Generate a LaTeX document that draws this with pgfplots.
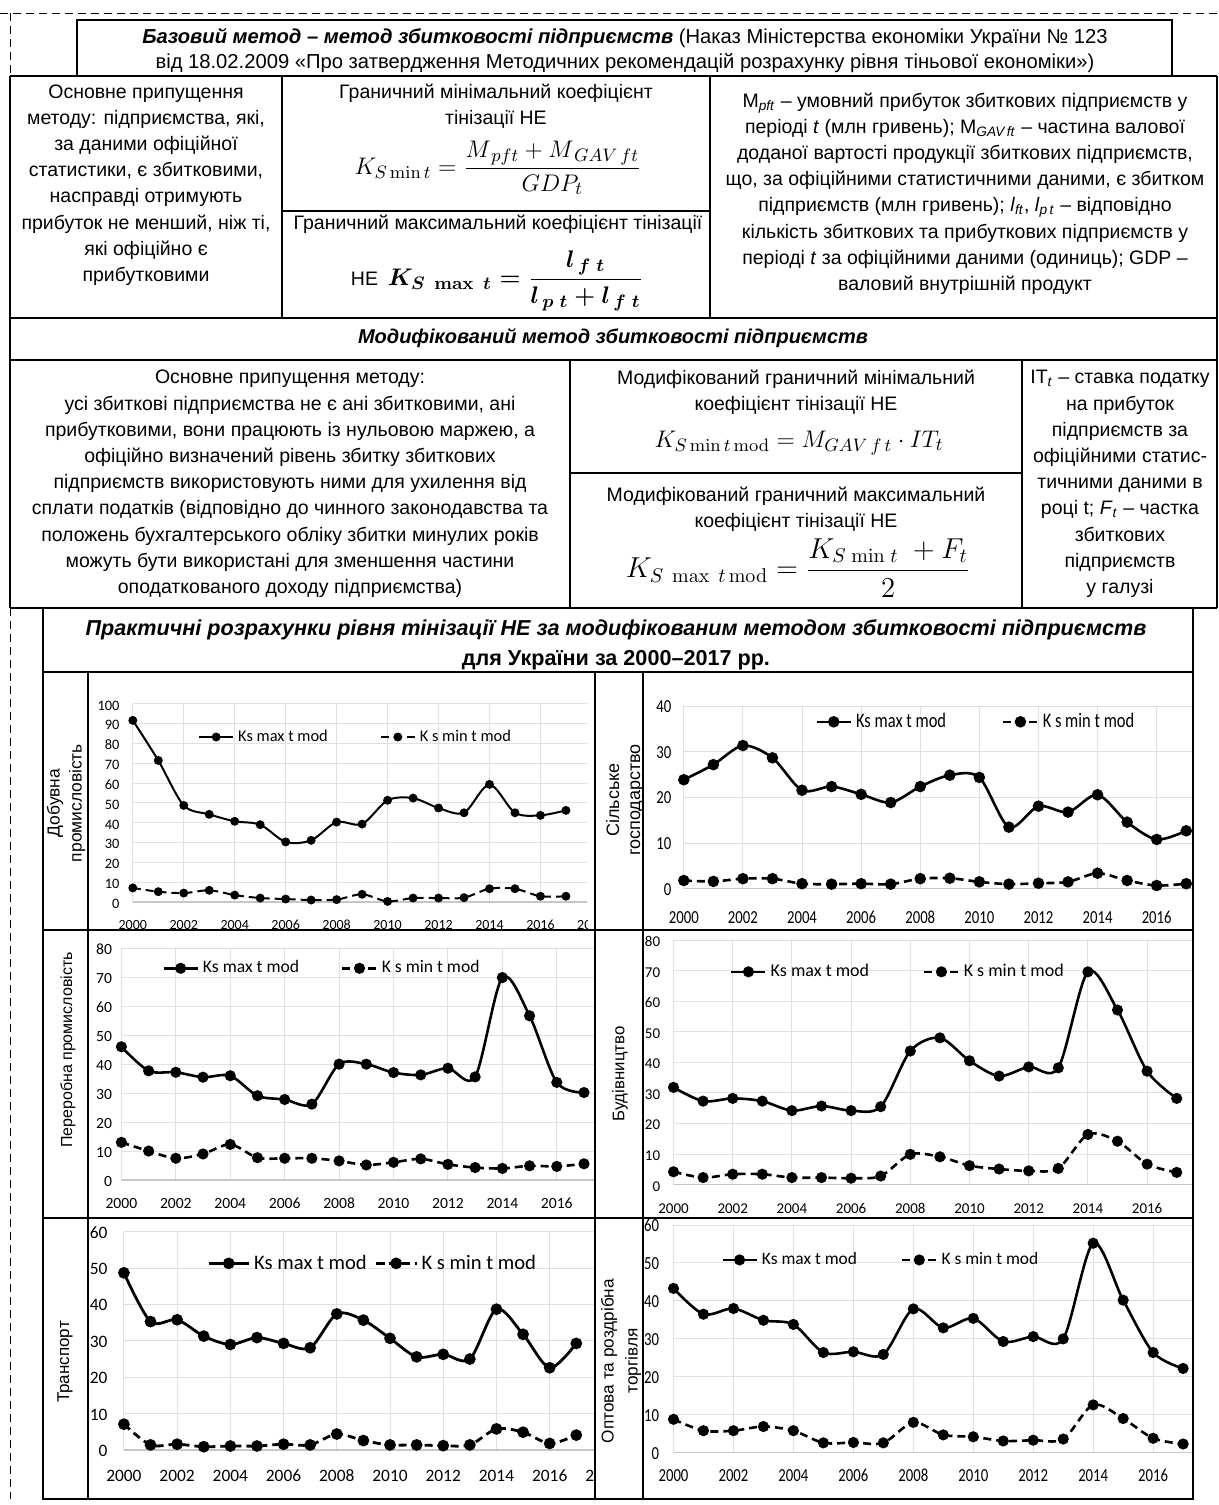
\documentclass[border=0pt]{standalone}
\usepackage{amsmath}
\usepackage[no-math]{fontspec}
\setmainfont{Liberation Sans}
\newfontfamily\carlito{Carlito}[Numbers=Lining]
\newfontfamily\carlitoN{Carlito}[FakeStretch=0.8,Numbers=Lining]
\usepackage{pgfplots}
\usepackage{pgfplotstable}
\pgfplotsset{compat=1.18}

\newcommand\tf{\fontsize{9.75}{13.1}\selectfont}
\newcommand\mf{\fontsize{12.5}{15}\selectfont}

% year, Ks max t mod, K s min t mod
\pgfplotstableread{
year max min
2000 91.6 7.1
2001 71.4 5.2
2002 48.7 4.5
2003 44.2 5.9
2004 40.7 3.5
2005 39.0 2.0
2006 30.3 1.5
2007 31.1 1.0
2008 40.3 1.2
2009 39.3 3.9
2010 51.3 0.3
2011 52.4 2.0
2012 47.4 2.0
2013 45.0 2.2
2014 59.3 6.7
2015 45.0 6.7
2016 43.7 2.9
2017 46.2 2.9
}\dobuvna

\pgfplotstableread{
year max min
2000 23.9 1.8
2001 27.2 1.6
2002 31.4 2.2
2003 28.7 2.2
2004 21.6 1.1
2005 22.4 1.0
2006 20.7 1.1
2007 18.9 1.0
2008 22.4 2.2
2009 24.9 2.3
2010 24.4 1.5
2011 13.5 1.0
2012 18.1 1.2
2013 16.8 1.5
2014 20.6 3.4
2015 14.6 1.8
2016 10.8 0.7
2017 12.7 1.1
}\silske

\pgfplotstableread{
year max min
2000 46.0 13.0
2001 37.7 10.0
2002 37.2 7.5
2003 35.5 9.0
2004 36.0 12.3
2005 29.1 7.7
2006 27.8 7.5
2007 26.2 7.5
2008 40.0 6.6
2009 40.0 5.2
2010 37.1 6.1
2011 36.3 7.3
2012 38.6 5.4
2013 35.6 4.3
2014 69.9 4.0
2015 56.7 4.9
2016 33.7 4.7
2017 30.2 5.6
}\pererobna

\pgfplotstableread{
year max min
2000 31.8 4.2
2001 27.3 2.3
2002 28.2 3.4
2003 27.3 3.4
2004 24.2 2.3
2005 25.7 2.3
2006 24.2 2.1
2007 25.5 2.8
2008 43.7 9.9
2009 48.0 9.1
2010 40.5 6.2
2011 35.5 5.1
2012 38.5 4.5
2013 38.2 5.3
2014 69.6 16.4
2015 57.1 14.2
2016 37.1 6.7
2017 28.2 4.0
}\budivn

\pgfplotstableread{
year max min
2000 48.7 7.1
2001 35.3 1.4
2002 35.8 1.6
2003 31.3 0.9
2004 29.0 1.1
2005 30.9 1.1
2006 29.3 1.6
2007 28.1 1.4
2008 37.4 4.4
2009 35.7 2.6
2010 30.7 1.4
2011 25.6 1.4
2012 26.3 1.2
2013 25.0 1.4
2014 38.7 5.8
2015 31.8 4.9
2016 22.6 1.8
2017 29.3 4.1
}\transport

\pgfplotstableread{
year max min
2000 43.3 8.8
2001 36.5 5.8
2002 38.0 5.8
2003 34.9 6.9
2004 33.8 5.8
2005 26.4 2.6
2006 26.6 2.7
2007 25.9 2.6
2008 37.9 8.0
2009 32.9 4.7
2010 35.4 4.2
2011 29.3 3.1
2012 30.6 3.3
2013 30.0 3.6
2014 55.2 12.6
2015 40.2 9.0
2016 26.4 3.8
2017 22.2 2.3
}\torgivlia

\pgfplotsset{
  kchart/.style={
    scale only axis, anchor=south west,
    xmin=2000, xmax=2018, ymin=0,
    xtick={2000,2002,...,2016},
    axis x line*=bottom, axis y line*=left,
    y axis line style={draw=none},
    x axis line style={-, draw=black!22, line width=0.7pt},
    major tick length=0pt,
    xmajorgrids, ymajorgrids,
    grid style={draw=black!12, line width=0.5pt},
    /pgf/number format/assume math mode=true,
    /pgf/number format/1000 sep={},
    xticklabel style={anchor=center, inner sep=0pt, text height=0.64em, text depth=0pt},
    yticklabel style={anchor=east, inner sep=0pt, text height=0.64em, text depth=0pt},
    clip=false,
    legend columns=2,
    legend cell align=left,
    legend style={draw=none, fill=none, anchor=west, inner sep=0pt},
    legend image code/.code={\draw[mark repeat=2,mark phase=2,##1] plot coordinates {(0pt,0pt) (8.5pt,0pt) (17pt,0pt)};},
  },
  kmax/.style={black, smooth, mark=*, mark options={solid}},
  kmin/.style={black, smooth, dash pattern=on 4pt off 2.5pt, mark=*, mark options={solid}},
}

\begin{document}
\begin{tikzpicture}
\begin{scope}[x=0.5pt,y=-0.5pt]
  \coordinate (A1) at (132.8,902);
  \coordinate (A2) at (683.8,888.7);
  \coordinate (A3) at (121.4,1180);
  \coordinate (A4) at (673.5,1184.6);
  \coordinate (A5) at (123.9,1450);
  \coordinate (A6) at (673.5,1452.7);
  \coordinate (C1a) at (88,672);   \coordinate (C1b) at (587,930);
  \coordinate (C2a) at (643,672);  \coordinate (C2b) at (1193,930);
  \coordinate (C3a) at (88,930);   \coordinate (C3b) at (595,1218);
  \coordinate (C4a) at (643,930);  \coordinate (C4b) at (1193,1218);
  \coordinate (C5a) at (88,1218);  \coordinate (C5b) at (595,1499);
  \coordinate (C6a) at (643,1215); \coordinate (C6b) at (1193,1499);
\end{scope}

% Добувна промисловість
\begin{scope}
\clip (C1a) rectangle (C1b);
\begin{axis}[kchart, at={(A1)}, width=229.3pt, height=99.15pt,
  ymax=100, ytick={0,10,...,100}, xtick={2000,2002,...,2018},
  every axis plot post/.append style={line width=1pt, mark size=1.7pt},
  yticklabel style={xshift=-6.5pt, font=\fontsize{7.2}{8}\selectfont\carlito},
  xticklabel style={yshift=-10.5pt, font=\fontsize{7}{8}\selectfont\carlito},
  legend style={at={(axis cs:2002.55,83.2)}, font=\fontsize{8.2}{9}\selectfont\carlito,
    /tikz/every even column/.append style={column sep=24pt}}]
\addplot[kmax] table[x=year,y=max]{\dobuvna};
\addlegendentry{Ks max t mod}
\addplot[kmin] table[x=year,y=min]{\dobuvna};
\addlegendentry{K s min t mod}
\end{axis}
\end{scope}

% Сільське господарство
\begin{scope}
\clip (C2a) rectangle (C2b);
\begin{axis}[kchart, at={(A2)}, width=266pt, height=91.2pt,
  ymax=40, ytick={0,10,...,40},
  every axis plot post/.append style={line width=1.3pt, mark size=2.2pt},
  yticklabel style={xshift=-6pt, font=\fontsize{9.2}{10}\selectfont\carlitoN},
  xticklabel style={yshift=-14pt, font=\fontsize{9.2}{10}\selectfont\carlitoN},
  legend style={at={(axis cs:2004.44,36.6)}, font=\fontsize{10.3}{11}\selectfont\carlitoN,
    /tikz/every even column/.append style={column sep=26pt}}]
\addplot[kmax] table[x=year,y=max]{\silske};
\addlegendentry{Ks max t mod}
\addplot[kmin] table[x=year,y=min]{\silske};
\addlegendentry{K s min t mod}
\end{axis}
\end{scope}

% Переробна промисловість
\begin{scope}
\clip (C3a) rectangle (C3b);
\begin{axis}[kchart, at={(A3)}, width=244.9pt, height=115.85pt,
  ymax=80, ytick={0,10,...,80},
  every axis plot post/.append style={line width=1.3pt, mark size=2.1pt},
  yticklabel style={xshift=-4.5pt, font=\fontsize{7.8}{9}\selectfont\carlito},
  xticklabel style={yshift=-10.8pt, font=\fontsize{7.8}{9}\selectfont\carlito},
  legend style={at={(axis cs:2001.49,73.1)}, font=\fontsize{8.8}{10}\selectfont\carlito,
    /tikz/every even column/.append style={column sep=19pt}}]
\addplot[kmax] table[x=year,y=max]{\pererobna};
\addlegendentry{Ks max t mod}
\addplot[kmin] table[x=year,y=min]{\pererobna};
\addlegendentry{K s min t mod}
\end{axis}
\end{scope}

% Будівництво
\begin{scope}
\clip (C4a) rectangle (C4b);
\begin{axis}[kchart, at={(A4)}, width=266.4pt, height=122.3pt,
  ymax=80, ytick={0,10,...,80},
  every axis plot post/.append style={line width=1.3pt, mark size=2.1pt},
  yticklabel style={xshift=-6.5pt, font=\fontsize{7.5}{9}\selectfont\carlito},
  xticklabel style={yshift=-11.3pt, font=\fontsize{7.5}{9}\selectfont\carlito},
  legend style={at={(axis cs:2001.9,69.6)}, font=\fontsize{9}{10}\selectfont\carlito,
    /tikz/every even column/.append style={column sep=25pt}}]
\addplot[kmax] table[x=year,y=max]{\budivn};
\addlegendentry{Ks max t mod}
\addplot[kmin] table[x=year,y=min]{\budivn};
\addlegendentry{K s min t mod}
\end{axis}
\end{scope}

% Транспорт
\begin{scope}
\clip (C5a) rectangle (C5b);
\begin{axis}[kchart, at={(A5)}, width=239.5pt, height=109.15pt,
  ymax=60, ytick={0,10,...,60}, xtick={2000,2002,...,2018},
  every axis plot post/.append style={line width=1.4pt, mark size=2.2pt},
  yticklabel style={xshift=-8pt, font=\fontsize{8.7}{10}\selectfont\carlito},
  xticklabel style={yshift=-12.5pt, font=\fontsize{8.7}{10}\selectfont\carlito},
  legend image code/.code={\draw[mark repeat=2,mark phase=2,#1] plot coordinates {(0pt,0pt) (10pt,0pt) (20pt,0pt)};},
  legend style={at={(axis cs:2003.12,51.3)}, font=\fontsize{10.3}{11}\selectfont\carlito,
    /tikz/every even column/.append style={column sep=2pt}}]
\addplot[kmax] table[x=year,y=max]{\transport};
\addlegendentry{Ks max t mod}
\addplot[kmin] table[x=year,y=min]{\transport};
\addlegendentry{K s min t mod}
\end{axis}
\end{scope}

% Оптова та роздрібна торгівля
\begin{scope}
\clip (C6a) rectangle (C6b);
\begin{axis}[kchart, at={(A6)}, width=269.8pt, height=113.85pt,
  ymax=60, ytick={0,10,...,60},
  every axis plot post/.append style={line width=1.3pt, mark size=2.1pt},
  yticklabel style={xshift=-7pt, font=\fontsize{9.2}{10}\selectfont\carlitoN},
  xticklabel style={yshift=-11pt, font=\fontsize{9.2}{10}\selectfont\carlitoN},
  legend style={at={(axis cs:2001.58,50.8)}, font=\fontsize{8.7}{10}\selectfont\carlito,
    /tikz/every even column/.append style={column sep=20pt}}]
\addplot[kmax] table[x=year,y=max]{\torgivlia};
\addlegendentry{Ks max t mod}
\addplot[kmin] table[x=year,y=min]{\torgivlia};
\addlegendentry{K s min t mod}
\end{axis}
\end{scope}

\begin{scope}[x=0.5pt,y=-0.5pt]
  % dashed outer frame
  \draw[dash pattern=on 4pt off 2.5pt, line width=0.5pt] (0,13) -- (1219,13);
  \draw[dash pattern=on 4pt off 2.5pt, line width=0.5pt] (10,13) -- (10,76);
  \draw[dash pattern=on 4pt off 2.5pt, line width=0.5pt] (10,608) -- (10,1499);
  % upper table
  \draw[line width=0.6pt] (77,20) rectangle (1172,76);
  \draw[line width=0.6pt] (10,76) -- (1217,76) (10,76) -- (10,608) (1217,76) -- (1217,608)
    (282,76) -- (282,318) (710,76) -- (710,318) (282,211) -- (710,211)
    (10,318) -- (1217,318) (10,360) -- (1217,360)
    (570,360) -- (570,608) (1022,360) -- (1022,608) (570,473) -- (1022,473)
    (10,608) -- (1217,608);
  % chart grid
  \draw[line width=1pt] (43,608) rectangle (1193,1499)
    (43,672) -- (1193,672) (43,930) -- (1193,930) (43,1218) -- (1193,1218)
    (88,672) -- (88,1499) (595,672) -- (595,1499) (643,672) -- (643,1499);

  \tikzset{every node/.style={inner sep=0pt, align=center, font=\tf}}

  \node[font=\fontsize{10.1}{12.5}\selectfont] at (625,50.5) {\textbf{\textit{Базовий метод – метод збитковості підприємств}} (Наказ Міністерства економіки України № 123\\від 18.02.2009 «Про затвердження Методичних рекомендацій розрахунку рівня тіньової економіки»)};

  \node at (146,185) {Основне припущення\\методу: підприємства, які,\\за даними офіційної\\статистики, є збитковими,\\насправді отримують\\прибуток не менший, ніж ті,\\які офіційно є\\прибутковими};

  \node at (496,106) {Граничний мінімальний коефіцієнт\\тінізації НЕ};
  \node[font=\mf] at (498,168) {$K_{S\,\mathrm{min}\,t} = \dfrac{M_{\,pft} + M_{\,GAV\,ft}}{GDP_t}$};
  \node at (498,224) {Граничний максимальний коефіцієнт тінізації};
  \node at (497,281) {НЕ\enspace{\fontsize{13}{16}\selectfont$\boldsymbol{K_{S\;\max\;t} = \dfrac{l_{\,f\;t}}{l_{\,p\;t} + l_{\,f\;t}}}$}};

  \node at (965,193.5) {M\textsubscript{\textit{pft}} – умовний прибуток збиткових підприємств у\\періоді \textit{t} (млн гривень); M\textsubscript{\textit{GAV\,ft}} – частина валової\\доданої вартості продукції збиткових підприємств,\\що, за офіційними статистичними даними, є збитком\\підприємств (млн гривень); \textit{l}\textsubscript{\textit{ft}}, \textit{l}\textsubscript{\textit{p\,t}} – відповідно\\кількість збиткових та прибуткових підприємств у\\періоді \textit{t} за офіційними даними (одиниць); GDP –\\валовий внутрішній продукт};

  \node[font=\fontsize{10}{12}\selectfont\bfseries\itshape] at (613,338) {Модифікований метод збитковості підприємств};

  \node at (290,484) {Основне припущення методу:\\усі збиткові підприємства не є ані збитковими, ані\\прибутковими, вони працюють із нульовою маржею, а\\офіційно визначений рівень збитку збиткових\\підприємств використовують ними для ухилення від\\сплати податків (відповідно до чинного законодавства та\\положень бухгалтерського обліку збитки минулих років\\можуть бути використані для зменшення частини\\оподаткованого доходу підприємства)};

  \node at (796,392) {Модифікований граничний мінімальний\\коефіцієнт тінізації НЕ};
  \node[font=\fontsize{12.5}{15}\selectfont] at (799,443) {$K_{S\,\mathrm{min}\,t\,\mathrm{mod}} = M_{GAV\,f\,t}\cdot IT_t$};
  \node at (796,509) {Модифікований граничний максимальний\\коефіцієнт тінізації НЕ};
  \node[font=\fontsize{14}{16}\selectfont] at (798,568) {$K_{S\;\max\;t\,\mathrm{mod}} = \dfrac{K_{S\;\mathrm{min}\;t}\;+F_t}{2}$};

  \node at (1120,484) {IT\textsubscript{\textit{t}} – ставка податку\\на прибуток\\підприємств за\\офіційними статис-\\тичними даними в\\році t; \textit{F}\textsubscript{\textit{t}} – частка\\збиткових\\підприємств\\у галузі};

  \node[font=\fontsize{10.8}{15}\selectfont\bfseries] at (616,645) {\textit{Практичні розрахунки рівня тінізації НЕ за модифікованим методом збитковості підприємств}\\для України за 2000–2017 рр.};

  % row labels
  \node[rotate=90, font=\fontsize{8.7}{11}\selectfont] at (66,803) {Добувна\\промисловість};
  \node[rotate=90, font=\fontsize{9}{10.5}\selectfont] at (625,800) {Сільське\\господарство};
  \node[rotate=90, font=\fontsize{8}{9}\selectfont] at (68,1050) {Переробна промисловість};
  \node[rotate=90, font=\fontsize{8.4}{9}\selectfont] at (620,1074) {Будівництво};
  \node[rotate=90, font=\fontsize{8.5}{9}\selectfont] at (65,1362) {Транспорт};
  \node[rotate=90, font=\fontsize{8.6}{12}\selectfont] at (621,1361) {Оптова та роздрібна\\торгівля};
\end{scope}

\pgfresetboundingbox
\path[use as bounding box] (0,0) rectangle (609.5pt,-752.5pt);
\end{tikzpicture}
\end{document}
